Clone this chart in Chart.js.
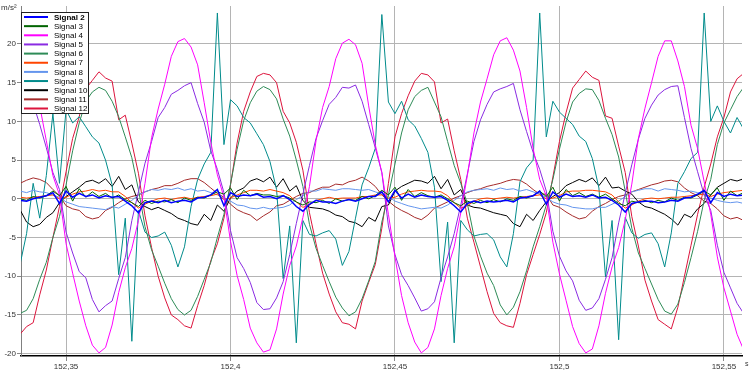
<!DOCTYPE html>
<html>
<head>
<meta charset="utf-8">
<script src="https://cdn.jsdelivr.net/npm/chart.js@4"></script>
<style>
  html, body { margin: 0; padding: 0; background: #fff; }
  canvas { display: block; }
</style>
</head>
<body>
<canvas id="myChart" width="750" height="372"></canvas>
<script>
// sample clock of the recording (seconds)
const t0 = 152.336
const dt = 0.002
const sampleCount = 111

const labels = ['Signal 2', 'Signal 3', 'Signal 4', 'Signal 5', 'Signal 6', 'Signal 7',
  'Signal 8', 'Signal 9', 'Signal 10', 'Signal 11', 'Signal 12']
const colors = ['#0000ff', '#006400', '#ff00ff', '#8a2be2', '#2e8b57', '#ff4500',
  '#6495ed', '#008b8b', '#000000', '#a52a2a', '#dc143c']

// values in m/s²
const sig2 = [-0.2, -0.3, 0.0, 0.2, 0.4, 0.8,
  -0.6, 1.0, 0.2, 0.7, 0.3, 0.5, 0.1, 0.4, 0.2, 0.3, -0.3, -0.9, -1.8, -0.5, -0.3, -0.5, -0.2, -0.5, -0.3, -0.2, -0.4, 0.1, 0.2, 0.5, 1.2,
  -0.9, 0.8, 0.3, 0.5, 0.4, 0.6, 0.2, 0.3, 0.0, 0.4, -0.1, -1.0, -1.6, -0.7, -0.2, -0.4, -0.4, -0.6, -0.3, -0.1, -0.3, 0.0, 0.3, 0.3, 0.9,
  -0.4, 1.1, 0.1, 0.6, 0.2, 0.5, 0.3, 0.2, 0.3, -0.2, -0.9, -1.7, -0.6, -0.3, -0.5, -0.3, -0.4, -0.3, -0.2, -0.4, 0.1, 0.2, 0.4, 1.0,
  -0.7, 0.9, 0.2, 0.6, 0.3, 0.4, 0.2, 0.5, 0.1, 0.2, -0.2, -0.8, -1.7, -0.6, -0.4, -0.3, -0.3, -0.5, -0.4, -0.2, -0.3, 0.1, 0.2, 0.6, 1.1,
  -0.5, 0.8, 0.3, 0.6, 0.4, 0.5]
const sig3 = [0.0, -0.2, 0.3, 0.1, 0.4, 1.0,
  0.4, 1.6, -0.3, 1.3, 0.2, 0.9, 0.3, 0.7, 0.1, 0.5, -0.1, -0.5, -1.0, -0.2, -0.6, -0.3, -0.4, -0.1, -0.5, 0.1, -0.2, 0.2, 0.1, 0.5, 0.9,
  0.6, 1.4, -0.1, 1.1, 0.4, 0.7, 0.5, 0.5, 0.3, 0.4, 0.1, -0.4, -0.8, -0.4, -0.5, -0.2, -0.6, 0.0, -0.3, -0.1, -0.2, 0.3, 0.0, 0.4, 1.1,
  0.5, 1.5, -0.2, 1.2, 0.3, 0.8, 0.4, 0.2, 0.5, 0.0, -0.5, -0.9, -0.3, -0.6, -0.2, -0.5, -0.1, -0.4, 0.0, -0.2, 0.3, 0.1, 0.4, 1.0,
  0.3, 1.5, -0.3, 1.2, 0.4, 0.8, 0.3, 0.6, 0.2, 0.6, 0.0, -0.6, -0.9, -0.3, -0.5, -0.2, -0.5, -0.2, -0.4, 0.1, -0.2, 0.2, 0.1, 0.5, 1.0,
  0.5, 1.4, -0.2, 1.0, 0.4, 0.8]
const sig4 = [20.4, 19.5, 17.0, 12.0, 7.5, 3.0,
  0.5, -5.8, -9.6, -13.2, -16.4, -18.9, -19.9, -19.2, -16.3, -12.1, -8.9, -6.4, -2.8, 2.0, 7.9, 11.6, 14.8, 18.4, 20.3, 20.7, 19.6, 17.3, 12.4, 7.3, 3.1,
  0.2, -5.5, -9.9, -13.0, -16.7, -18.6, -19.8, -19.5, -16.8, -12.3, -8.6, -6.1, -2.4, 1.6, 7.5, 11.8, 14.5, 18.1, 20.1, 20.6, 19.9, 17.5, 12.0, 7.0, 3.4,
  -2.0, -7.5, -12.5, -16.0, -18.5, -19.9, -19.2, -16.8, -12.5, -9.0, -6.2, -1.8, 3.0, 8.5, 12.5, 15.5, 18.6, 20.4, 20.8, 19.2, 16.5, 11.8, 6.5, 2.5,
  0.4, -5.6, -9.7, -13.1, -16.5, -18.7, -19.9, -19.4, -16.4, -12.2, -8.8, -6.3, -2.7, 1.9, 7.8, 11.7, 15.0, 18.4, 20.4, 20.4, 17.8, 14.5, 9.5, 6.5, 2.2,
  -2.0, -7.5, -11.5, -14.5, -17.5, -19.5]
const sig5 = [14.4, 14.9, 12.3, 9.6, 6.6, 3.4,
  1.2, -4.3, -7.0, -9.4, -10.2, -13.0, -14.6, -13.8, -13.2, -10.3, -7.6, -2.8, 0.9, 4.6, 7.4, 10.5, 11.8, 13.5, 14.0, 14.6, 15.0, 12.3, 9.9, 6.2, 3.8,
  0.8, -4.1, -7.6, -9.0, -10.8, -13.4, -14.3, -14.2, -12.8, -10.7, -7.2, -3.2, 0.6, 4.3, 7.8, 10.1, 12.2, 13.1, 14.4, 14.3, 14.7, 12.6, 9.6, 6.6, 3.4,
  -3.5, -7.2, -9.8, -11.2, -12.8, -14.5, -14.2, -13.3, -10.2, -7.5, -4.5, -0.8, 3.2, 7.4, 10.2, 12.2, 13.8, 14.2, 14.5, 14.9, 11.5, 8.7, 6.0, 3.8,
  1.0, -4.2, -7.4, -9.3, -10.6, -13.1, -14.4, -14.1, -12.9, -10.4, -7.6, -3.1, 0.7, 4.4, 7.7, 10.4, 12.1, 13.4, 14.1, 14.5, 14.6, 10.5, 6.5, 3.5, 0.5,
  -1.5, -6.0, -9.5, -11.5, -13.5, -14.8]
const sig6 = [-14.8, -14.4, -12.9, -10.4, -8.2, -5.0,
  -2.3, 1.8, 6.2, 9.8, 12.6, 13.8, 14.4, 14.0, 12.6, 10.6, 8.0, 5.3, 1.2, -3.6, -6.6, -8.7, -10.9, -12.9, -14.3, -15.0, -14.4, -12.6, -10.4, -8.2, -5.0,
  -2.0, 1.9, 6.4, 10.1, 12.4, 13.9, 14.5, 14.1, 12.9, 10.3, 8.1, 5.0, 1.6, -3.3, -6.4, -8.6, -10.7, -12.7, -14.1, -15.1, -14.6, -12.9, -10.6, -8.1, -3.0,
  0.5, 4.5, 8.5, 11.5, 13.2, 14.0, 14.4, 12.5, 10.6, 7.4, 4.3, 2.0, -0.6, -4.8, -7.4, -9.6, -11.2, -13.7, -15.0, -14.0, -12.0, -9.3, -6.2, -3.6,
  -0.8, 2.5, 6.4, 9.9, 12.5, 13.6, 14.2, 14.1, 12.7, 10.4, 8.3, 5.4, 1.0, -3.8, -7.0, -9.0, -11.0, -13.0, -14.5, -14.9, -13.6, -10.8, -7.6, -4.2, -0.2,
  2.5, 7.0, 9.8, 11.5, 13.2, 14.4]
const sig7 = [0.2, 0.1, 0.2, 0.3, 0.4, 0.5,
  0.0, 0.2, 0.6, 0.9, 1.0, 1.2, 1.0, 1.1, 0.9, 0.9, 0.3, -0.5, -1.2, -0.7, -0.3, 0.0, 0.1, -0.1, 0.1, 0.2, 0.0, 0.2, 0.3, 0.4, 0.6,
  -0.1, 0.1, 0.5, 0.8, 1.1, 1.1, 1.0, 1.2, 1.0, 0.8, 0.4, -0.4, -1.1, -0.8, -0.2, 0.0, 0.2, 0.0, 0.1, 0.1, 0.1, 0.3, 0.3, 0.5, 0.5,
  0.1, 0.2, 0.6, 0.9, 1.0, 1.1, 1.0, 1.0, 0.9, 0.4, -0.5, -1.2, -0.9, -0.3, 0.0, 0.1, 0.0, 0.1, 0.2, 0.1, 0.2, 0.3, 0.4, 0.5,
  0.0, 0.1, 0.4, 0.9, 1.0, 1.0, 1.1, 1.1, 1.0, 0.9, 0.5, -0.4, -1.2, -0.8, -0.3, 0.0, 0.1, 0.0, 0.1, 0.2, 0.2, 0.3, 0.4, 0.5, 0.6,
  0.3, 0.6, 0.8, 0.9, 1.0, 1.1]
const sig8 = [1.0, 0.8, 1.1, 0.9, 0.8, 0.5,
  0.2, -0.4, -0.7, -1.0, -1.1, -1.2, -1.3, -1.4, -1.0, -1.2, -0.7, -0.2, 0.5, 0.9, 1.2, 1.1, 1.3, 1.2, 1.4, 1.1, 1.3, 1.0, 1.1, 0.8, 0.5,
  0.1, -0.3, -0.8, -0.9, -1.2, -1.3, -1.1, -1.3, -1.2, -1.1, -0.8, -0.1, 0.4, 1.0, 1.0, 1.3, 1.2, 1.1, 1.3, 1.3, 1.2, 1.1, 1.2, 0.9, 0.6,
  0.3, -0.3, -0.6, -0.9, -1.1, -1.3, -1.2, -1.1, -1.2, -0.8, -0.2, 0.4, 0.9, 1.1, 1.2, 1.3, 1.1, 1.4, 1.2, 1.3, 1.0, 1.2, 0.9, 0.6,
  0.2, -0.4, -0.7, -0.8, -1.1, -1.2, -1.3, -1.3, -1.1, -1.1, -0.7, -0.3, 0.3, 0.9, 1.1, 1.3, 1.3, 1.0, 1.3, 1.2, 1.1, 0.9, 1.0, 0.8, 0.5,
  0.1, -0.2, -0.4, -0.5, -0.4, -0.6]
const sig9 = [-8.5, -4.5, 2.0, -2.5, 3.0, 11.0,
  2.0, 11.5, 9.8, 10.6, 9.3, 8.0, 7.2, 5.0, 1.8, -9.8, -2.5, -18.4, -1.5, -4.3, -5.0, -4.8, -4.3, -6.0, -8.8, -6.2, -1.0, 2.5, 4.5, 6.0, 24.0,
  7.0, 12.8, 12.0, 10.5, 9.8, 8.4, 7.0, 4.8, 1.2, -10.3, -3.5, -18.6, -2.8, -4.6, -4.8, -4.4, -4.1, -5.2, -8.6, -6.8, -2.5, 1.8, 4.0, 6.5, 23.8,
  12.5, 11.0, 12.6, 10.2, 9.4, 7.8, 6.0, 1.5, -10.7, -3.0, -18.6, -2.8, -4.0, -4.8, -4.6, -4.5, -5.3, -7.5, -8.8, -4.5, 2.2, 4.0, 5.0, 24.0,
  8.0, 12.6, 11.2, 10.4, 9.6, 8.1, 7.4, 5.2, 1.4, -10.1, -2.8, -18.2, -2.4, -4.4, -5.1, -4.6, -4.4, -5.8, -8.8, -4.4, 2.0, 3.5, 5.2, 6.0, 24.0,
  10.0, 12.0, 10.0, 8.5, 10.5, 9.0]
const sig10 = [-1.4, -3.0, -3.6, -3.3, -2.4, -1.8,
  -0.5, 0.3, 0.9, 1.5, 2.2, 2.4, 2.0, 2.6, 1.6, 2.9, 1.2, 1.8, -0.4, -1.0, -1.4, -1.1, -1.5, -1.9, -2.5, -2.8, -3.2, -3.4, -2.0, -2.8, -0.8,
  -1.6, 0.1, 1.0, 1.4, 2.3, 2.6, 2.2, 2.8, 1.5, 2.6, 1.0, 1.7, -0.2, -1.1, -1.2, -1.3, -1.6, -2.1, -2.3, -2.9, -3.1, -3.6, -2.4, -2.9, -1.0,
  -0.8, 1.0, 1.6, 2.0, 2.4, 2.3, 2.0, 2.9, 1.3, 2.5, 0.5, 1.2, -0.8, -1.1, -1.2, -1.5, -1.8, -2.0, -2.2, -3.2, -3.6, -2.0, -2.8, -1.5,
  -0.4, 0.3, 0.8, 1.7, 2.1, 2.5, 2.2, 2.7, 1.7, 2.8, 1.4, 1.5, 1.0, 0.6, -0.4, -1.0, -1.2, -1.6, -2.0, -2.6, -3.4, -2.0, -2.4, -1.3, -0.6,
  0.5, 1.5, 2.0, 2.5, 2.3, 2.6]
const sig11 = [2.0, 2.4, 2.7, 2.5, 2.1, 1.2,
  0.4, -0.9, -1.3, -1.5, -2.3, -2.6, -2.4, -1.5, -1.1, -0.5, 0.0, 0.3, 0.5, 0.9, 1.2, 1.4, 1.7, 1.7, 2.0, 2.4, 2.6, 2.6, 2.1, 1.4, 0.7,
  0.2, -0.7, -1.4, -1.8, -2.1, -2.8, -2.2, -1.7, -0.9, -0.7, -0.2, 0.3, 0.7, 0.8, 1.2, 1.5, 1.5, 1.9, 1.8, 2.2, 2.4, 2.8, 2.3, 1.6, 0.5,
  -0.3, -1.0, -1.5, -1.9, -2.4, -2.7, -2.1, -1.2, -0.8, -0.4, 0.1, 0.4, 0.8, 1.1, 1.3, 1.6, 1.8, 2.0, 2.3, 2.5, 2.4, 1.9, 1.2, 0.6,
  0.6, -0.8, -1.1, -1.7, -2.2, -2.6, -2.4, -1.6, -1.0, -0.6, -0.1, 0.3, 0.5, 0.9, 1.2, 1.5, 1.8, 2.0, 2.3, 2.4, 2.2, 1.4, 0.8, 0.4, -0.3,
  -0.6, -1.3, -2.2, -2.6, -2.4, -2.8]
const sig12 = [-17.5, -16.5, -16.0, -12.4, -9.2, -5.0,
  -1.0, 3.5, 7.8, 10.6, 14.2, 15.3, 16.4, 15.6, 15.2, 10.2, 10.8, 7.2, 3.3, -2.2, -6.3, -10.0, -12.8, -15.0, -15.6, -16.4, -16.7, -13.8, -11.2, -8.0, -5.8,
  -2.5, 1.8, 7.2, 11.3, 13.8, 15.8, 16.2, 16.0, 15.0, 11.3, 9.8, 7.3, 3.7, -1.8, -5.8, -9.6, -12.3, -14.6, -16.0, -16.2, -16.8, -13.2, -10.8, -8.5, -3.8,
  2.0, 8.0, 11.0, 13.3, 15.2, 16.2, 16.0, 15.1, 9.8, 10.3, 6.2, 2.5, -2.5, -5.6, -8.8, -12.0, -14.8, -16.0, -16.4, -16.6, -13.5, -9.8, -7.2, -4.6,
  -1.8, 2.8, 7.4, 11.1, 14.3, 15.4, 16.5, 15.7, 15.3, 10.7, 10.4, 6.8, 3.4, -2.3, -6.1, -10.5, -13.2, -15.6, -16.2, -16.8, -14.0, -10.0, -6.0, -2.0, 1.5,
  4.5, 8.0, 10.5, 13.8, 15.5, 16.2]

const series = [sig2, sig3, sig4, sig5, sig6, sig7, sig8, sig9, sig10, sig11, sig12]

const times = []
for (let i = 0; i < sampleCount; i++) {
  times.push(Math.round((t0 + i * dt) * 1000) / 1000)
}

const font = {family: 'Liberation Sans', size: 8}

// legend box + unit labels drawn inside the plot
const overlay = {
  id: 'overlay',
  afterDraw(chart) {
    const ctx = chart.ctx
    ctx.save()
    ctx.fillStyle = '#fff'
    ctx.fillRect(21.5, 12.5, 67, 101)
    ctx.strokeStyle = '#222'
    ctx.lineWidth = 1
    ctx.strokeRect(21.5, 12.5, 67, 101)
    chart.data.datasets.forEach((ds, k) => {
      const y = 17 + k * 9.15
      ctx.strokeStyle = ds.borderColor
      ctx.lineWidth = 2
      ctx.beginPath()
      ctx.moveTo(24, y)
      ctx.lineTo(48, y)
      ctx.stroke()
      ctx.fillStyle = '#000'
      ctx.font = (k === 0 ? 'bold ' : '') + '8px "Liberation Sans"'
      ctx.textBaseline = 'middle'
      ctx.fillText(ds.label, 54, y + 0.5)
    })
    ctx.fillStyle = '#333'
    ctx.textBaseline = 'alphabetic'
    ctx.font = '8px "Liberation Sans"'
    ctx.fillText('m/s²', 1, 10)
    ctx.font = '7px "Liberation Sans"'
    ctx.fillText('s', 745, 366)
    ctx.restore()
  }
}

new Chart(document.getElementById('myChart'), {
  type: 'line',
  data: {
    labels: times,
    datasets: series.map((vals, k) => ({
      label: labels[k],
      data: vals,
      borderColor: colors[k],
      backgroundColor: colors[k],
      borderWidth: k === 0 ? 1.5 : 1,
      pointRadius: 0,
      tension: 0,
      fill: false
    }))
  },
  options: {
    responsive: false,
    animation: false,
    devicePixelRatio: 1,
    layout: {padding: {top: 6, right: 8, left: 0, bottom: 0}},
    plugins: {legend: {display: false}, tooltip: {enabled: false}},
    scales: {
      x: {
        type: 'linear',
        min: 152.3363,
        max: 152.5555,
        afterFit(s) { s.height = 16 },
        ticks: {
          stepSize: 0.05,
          includeBounds: false,
          autoSkip: false,
          maxRotation: 0,
          padding: 1,
          color: '#333',
          font: font,
          callback: v => String(Math.round(v * 100) / 100).replace('.', ',')
        },
        grid: {color: '#b4b4b4', tickLength: 5, tickColor: '#888'},
        border: {color: '#000', width: 1.5}
      },
      y: {
        min: -20.3,
        max: 24.9,
        afterFit(s) { s.width = 21 },
        ticks: {stepSize: 5, includeBounds: false, padding: 1, color: '#333', font: font},
        grid: {color: '#b4b4b4', tickLength: 4, tickColor: '#888'},
        border: {color: '#808080'}
      }
    }
  },
  plugins: [overlay]
})
</script>
</body>
</html>
